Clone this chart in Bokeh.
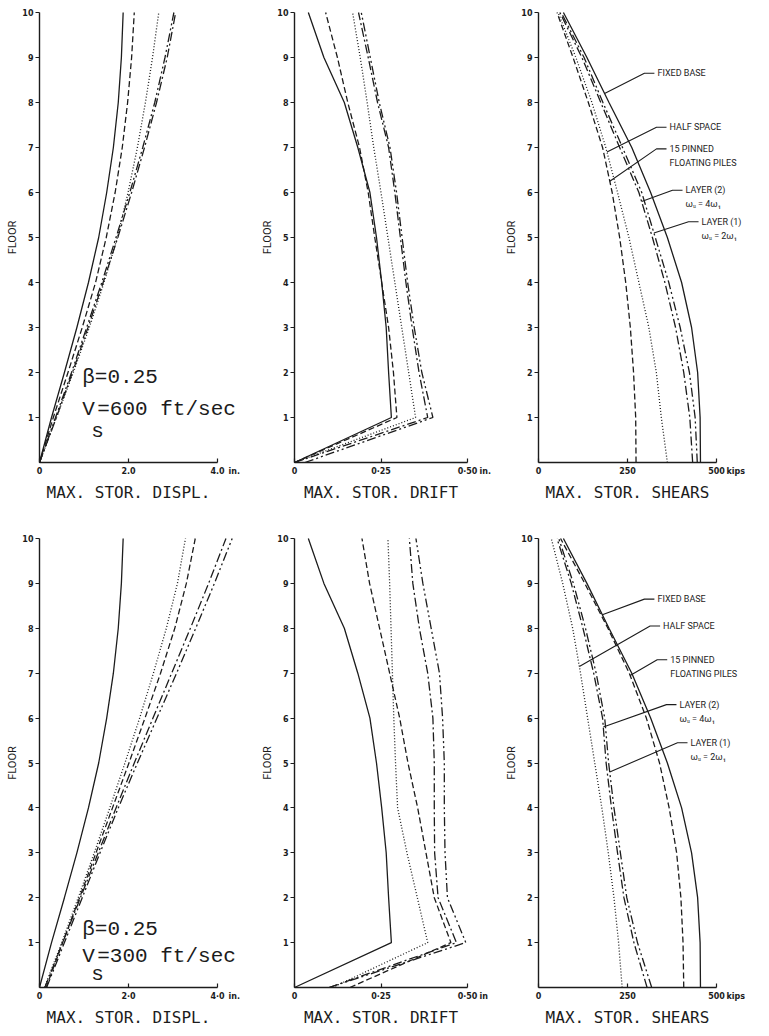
import numpy as np
from bokeh.plotting import figure
from bokeh.models import Range1d, FixedTicker, Label
from bokeh.layouts import row, column
from bokeh.embed import file_html
from bokeh.resources import INLINE

# ------------------------------------------------------------------ data
floors = [0, 1, 2, 3, 4, 5, 6, 7, 8, 9, 10]
floor_ticks = [1, 2, 3, 4, 5, 6, 7, 8, 9, 10]

# beta = 0.25, Vs = 600 ft/sec
displ600_fixed = [0, 0.27, 0.56, 0.84, 1.10, 1.33, 1.51, 1.66, 1.77, 1.84, 1.88]
displ600_half = [0, 0.38, 0.76, 1.12, 1.45, 1.75, 1.99, 2.20, 2.38, 2.54, 2.68]
displ600_piles = [0, 0.31, 0.64, 0.96, 1.26, 1.50, 1.70, 1.86, 1.98, 2.07, 2.13]
displ600_layer2 = [0, 0.38, 0.74, 1.09, 1.43, 1.76, 2.07, 2.36, 2.63, 2.87, 3.06]
displ600_layer1 = [0, 0.36, 0.72, 1.06, 1.40, 1.72, 2.03, 2.32, 2.59, 2.82, 3.02]

drift600_fixed = [0, 0.280, 0.272, 0.265, 0.252, 0.237, 0.218, 0.183, 0.144, 0.085, 0.040]
drift600_half = [0, 0.350, 0.330, 0.310, 0.290, 0.270, 0.250, 0.229, 0.210, 0.190, 0.168]
drift600_piles = [0, 0.296, 0.286, 0.272, 0.252, 0.232, 0.213, 0.188, 0.154, 0.124, 0.090]
drift600_layer2 = [0, 0.385, 0.360, 0.340, 0.322, 0.306, 0.290, 0.272, 0.240, 0.213, 0.185]
drift600_layer1 = [0.03, 0.400, 0.368, 0.346, 0.327, 0.311, 0.295, 0.276, 0.245, 0.219, 0.193]

shear600_fixed = [455, 454, 447, 430, 402, 362, 315, 262, 198, 136, 70]
shear600_half = [362, 345, 331, 310, 282, 254, 222, 189, 150, 105, 55]
shear600_piles = [274, 273, 267, 258, 245, 228, 207, 180, 140, 97, 52]
shear600_layer2 = [433, 425, 408, 385, 355, 320, 282, 228, 175, 122, 60]
shear600_layer1 = [446, 440, 424, 398, 366, 328, 290, 236, 181, 128, 64]

# beta = 0.25, Vs = 300 ft/sec
displ300_fixed = [0, 0.27, 0.56, 0.84, 1.10, 1.33, 1.51, 1.66, 1.77, 1.84, 1.88]
displ300_half = [0.11, 0.50, 0.87, 1.23, 1.58, 1.92, 2.25, 2.56, 2.85, 3.10, 3.28]
displ300_piles = [0.15, 0.52, 0.90, 1.27, 1.64, 2.01, 2.37, 2.72, 3.04, 3.30, 3.50]
displ300_layer2 = [0.12, 0.52, 0.92, 1.32, 1.72, 2.13, 2.55, 2.97, 3.39, 3.80, 4.19]
displ300_layer1 = [0.16, 0.56, 0.96, 1.36, 1.77, 2.20, 2.64, 3.08, 3.51, 3.93, 4.33]

drift300_fixed = [0, 0.280, 0.272, 0.265, 0.252, 0.237, 0.218, 0.183, 0.144, 0.085, 0.040]
drift300_half = [0.11, 0.385, 0.355, 0.325, 0.298, 0.292, 0.287, 0.283, 0.279, 0.275, 0.270]
drift300_piles = [0.16, 0.452, 0.404, 0.380, 0.356, 0.328, 0.304, 0.275, 0.246, 0.217, 0.195]
drift300_layer2 = [0.10, 0.468, 0.415, 0.405, 0.404, 0.404, 0.400, 0.385, 0.361, 0.342, 0.332]
drift300_layer1 = [0.10, 0.495, 0.442, 0.435, 0.433, 0.433, 0.428, 0.419, 0.395, 0.371, 0.351]

shear300_fixed = [455, 454, 447, 430, 402, 362, 315, 262, 198, 136, 70]
shear300_half = [235, 225, 212, 196, 178, 158, 138, 118, 96, 68, 36]
shear300_piles = [408, 406, 400, 388, 367, 340, 303, 255, 195, 130, 62]
shear300_layer2 = [305, 268, 240, 222, 205, 190, 180, 155, 125, 92, 52]
shear300_layer1 = [318, 278, 248, 230, 212, 197, 186, 162, 132, 98, 57]

displ_ticks = [0, 2, 4]
drift_ticks = [0, 0.25, 0.5]
shear_ticks = [0, 250, 500]
titles = ["MAX. STOR. DISPL.", "MAX. STOR. DRIFT", "MAX. STOR. SHEARS"]

# ------------------------------------------------------------------ style
INK = "#1c1c1c"
DASH = {"fixed": "solid", "half": "1 2", "piles": "6 3",
        "layer2": "9 3 2 3", "layer1": "9 3 2 3 2 3"}
# top: px from figure top to floor 10; ppf: px per floor
ROWS = [dict(height=518, top=12, ppf=45.0), dict(height=516, top=20, ppf=44.9)]
# left: px from figure left to the floor axis; ppu: px per x unit
COLS = [dict(width=255, left=39, ppu=44.5),
        dict(width=248, left=39, ppu=346.0),
        dict(width=264, left=35, ppu=0.356)]
TICK_FONT = "DejaVu Sans"


def panel(r, c, series, ticks, tick_labels, unit, unit_gap, title):
    rg, cg = ROWS[r], COLS[c]
    ppf, ppu = rg["ppf"], cg["ppu"]
    W, H = cg["width"], rg["height"]
    p = figure(width=W, height=H,
               x_range=Range1d(-cg["left"] / ppu, (W - cg["left"]) / ppu),
               y_range=Range1d(10 - (H - rg["top"]) / ppf, 10 + rg["top"] / ppf),
               min_border=0, output_backend="svg", toolbar_location=None)
    p.outline_line_color = None
    p.grid.visible = False
    p.background_fill_color = "white"
    p.border_fill_color = "white"
    for key, vals in series.items():
        p.line(vals, floors, line_color=INK, line_width=1.3, line_dash=DASH[key])

    axis_max = ticks[-1]
    xa = p.xaxis[0]
    xa.fixed_location = 0
    xa.bounds = (0, axis_max)
    xa.ticker = FixedTicker(ticks=ticks)
    xa.major_label_overrides = dict(zip(ticks, tick_labels))
    xa.major_tick_in = 4
    xa.major_tick_out = 0
    xa.minor_tick_in = 0
    xa.minor_tick_out = 0
    xa.major_label_standoff = 4

    ya = p.yaxis[0]
    ya.fixed_location = 0
    ya.bounds = (0, 10)
    ya.ticker = FixedTicker(ticks=floor_ticks)
    ya.major_tick_in = 0
    ya.major_tick_out = 4
    ya.minor_tick_in = 0
    ya.minor_tick_out = 0
    ya.major_label_standoff = 2

    for ax in (xa, ya):
        ax.axis_line_width = 1.4
        ax.axis_line_color = INK
        ax.major_tick_line_color = INK
        ax.major_tick_line_width = 1.2
        ax.major_label_text_font = TICK_FONT
        ax.major_label_text_font_size = "8px"
        ax.major_label_text_font_style = "bold"
        ax.major_label_text_color = INK

    p.add_layout(Label(x=-27.0 / ppu, y=5, text="FLOOR", angle=np.pi / 2,
                       text_font="Roboto", text_font_size="11px", text_color=INK,
                       text_align="center", text_baseline="middle"))
    p.add_layout(Label(x=axis_max + unit_gap / ppu, y=-9.0 / ppf, text=unit,
                       text_font=TICK_FONT, text_font_size="8px", text_font_style="bold",
                       text_color=INK, text_align="left", text_baseline="middle"))
    p.add_layout(Label(x=axis_max / 2.0, y=-30.0 / ppf, text=title,
                       text_font="DejaVu Sans Mono", text_font_size="16px",
                       text_color=INK, text_align="center", text_baseline="middle"))
    return p, ppu, ppf


def callout(p, ppu, ppf, lines, x_left, y_top, curve, tip_floor):
    for i, t in enumerate(lines):
        p.add_layout(Label(x=x_left, y=y_top - i * 14.0 / ppf, text=t,
                           text_font="Roboto", text_font_size="9px", text_color=INK,
                           text_align="left", text_baseline="middle"))
    tip_x = float(np.interp(tip_floor, floors, curve))
    xs = [x_left - 3.0 / ppu, x_left - 13.0 / ppu, tip_x]
    ys = [y_top, y_top, tip_floor]
    p.line(xs, ys, line_color=INK, line_width=1.1)


def beta_note(p, ppu, x, y_beta, y_v, y_s, vs_text):
    kw = dict(text_font="Liberation Mono", text_font_size="21px", text_color=INK,
              text_align="left", text_baseline="middle")
    p.add_layout(Label(x=x, y=y_beta, text="\u03b2=0.25", **kw))
    p.add_layout(Label(x=x, y=y_v, text="V", **kw))
    p.add_layout(Label(x=x + 15.0 / ppu, y=y_v, text="=" + vs_text, **kw))
    p.add_layout(Label(x=x + 9.0 / ppu, y=y_s, text="s", **kw))


# ------------------------------------------------------------------ panels
def build_row(r, d_series, dr_series, sh_series, vs_text, dot_labels, callouts):
    p1, u1, f1 = panel(r, 0, d_series, displ_ticks, ["0"] + dot_labels[0], dot_labels[2],
                       11, titles[0])
    p2, u2, f2 = panel(r, 1, dr_series, drift_ticks, ["0"] + dot_labels[1], dot_labels[3],
                       12, titles[1])
    p3, u3, f3 = panel(r, 2, sh_series, shear_ticks, ["0", "250", "500"], "kips",
                       10, titles[2])
    if r == 0:
        beta_note(p1, u1, 0.96, 1.90, 1.17, 0.69, vs_text)
    else:
        beta_note(p1, u1, 0.96, 1.30, 0.70, 0.28, vs_text)
    for lines, xl, yt, key, tipf in callouts:
        callout(p3, u3, f3, lines, xl, yt, sh_series[key], tipf)
    return row(p1, p2, p3)


top = build_row(
    0,
    dict(fixed=displ600_fixed, half=displ600_half, piles=displ600_piles,
         layer2=displ600_layer2, layer1=displ600_layer1),
    dict(fixed=drift600_fixed, half=drift600_half, piles=drift600_piles,
         layer2=drift600_layer2, layer1=drift600_layer1),
    dict(fixed=shear600_fixed, half=shear600_half, piles=shear600_piles,
         layer2=shear600_layer2, layer1=shear600_layer1),
    "600 ft/sec",
    [["2.0", "4.0"], ["0\u00b725", "0\u00b750"], "in.", "in."],
    [(["FIXED BASE"], 334, 8.65, "fixed", 8.2),
     (["HALF SPACE"], 368, 7.45, "half", 6.9),
     (["15 PINNED", "FLOATING PILES"], 368, 6.97, "piles", 6.25),
     (["LAYER (2)", "\u03c9\u1d64 = 4\u03c9\u2081"], 413, 6.05, "layer2", 5.8),
     (["LAYER (1)", "\u03c9\u1d64 = 2\u03c9\u2081"], 458, 5.35, "layer1", 5.1)],
)

bottom = build_row(
    1,
    dict(fixed=displ300_fixed, half=displ300_half, piles=displ300_piles,
         layer2=displ300_layer2, layer1=displ300_layer1),
    dict(fixed=drift300_fixed, half=drift300_half, piles=drift300_piles,
         layer2=drift300_layer2, layer1=drift300_layer1),
    dict(fixed=shear300_fixed, half=shear300_half, piles=shear300_piles,
         layer2=shear300_layer2, layer1=shear300_layer1),
    "300 ft/sec",
    [["2\u00b70", "4\u00b70"], ["0\u00b725", "0\u00b750"], "in.", "in"],
    [(["FIXED BASE"], 334, 8.65, "fixed", 8.3),
     (["HALF SPACE"], 350, 8.05, "half", 7.15),
     (["15 PINNED", "FLOATING PILES"], 370, 7.3, "piles", 6.95),
     (["LAYER (2)", "\u03c9\u1d64 = 4\u03c9\u2081"], 396, 6.3, "layer2", 5.8),
     (["LAYER (1)", "\u03c9\u1d64 = 2\u03c9\u2081"], 427, 5.45, "layer1", 4.8)],
)

layout = column(top, bottom)
open("out.html", "w").write(file_html(layout, INLINE))
